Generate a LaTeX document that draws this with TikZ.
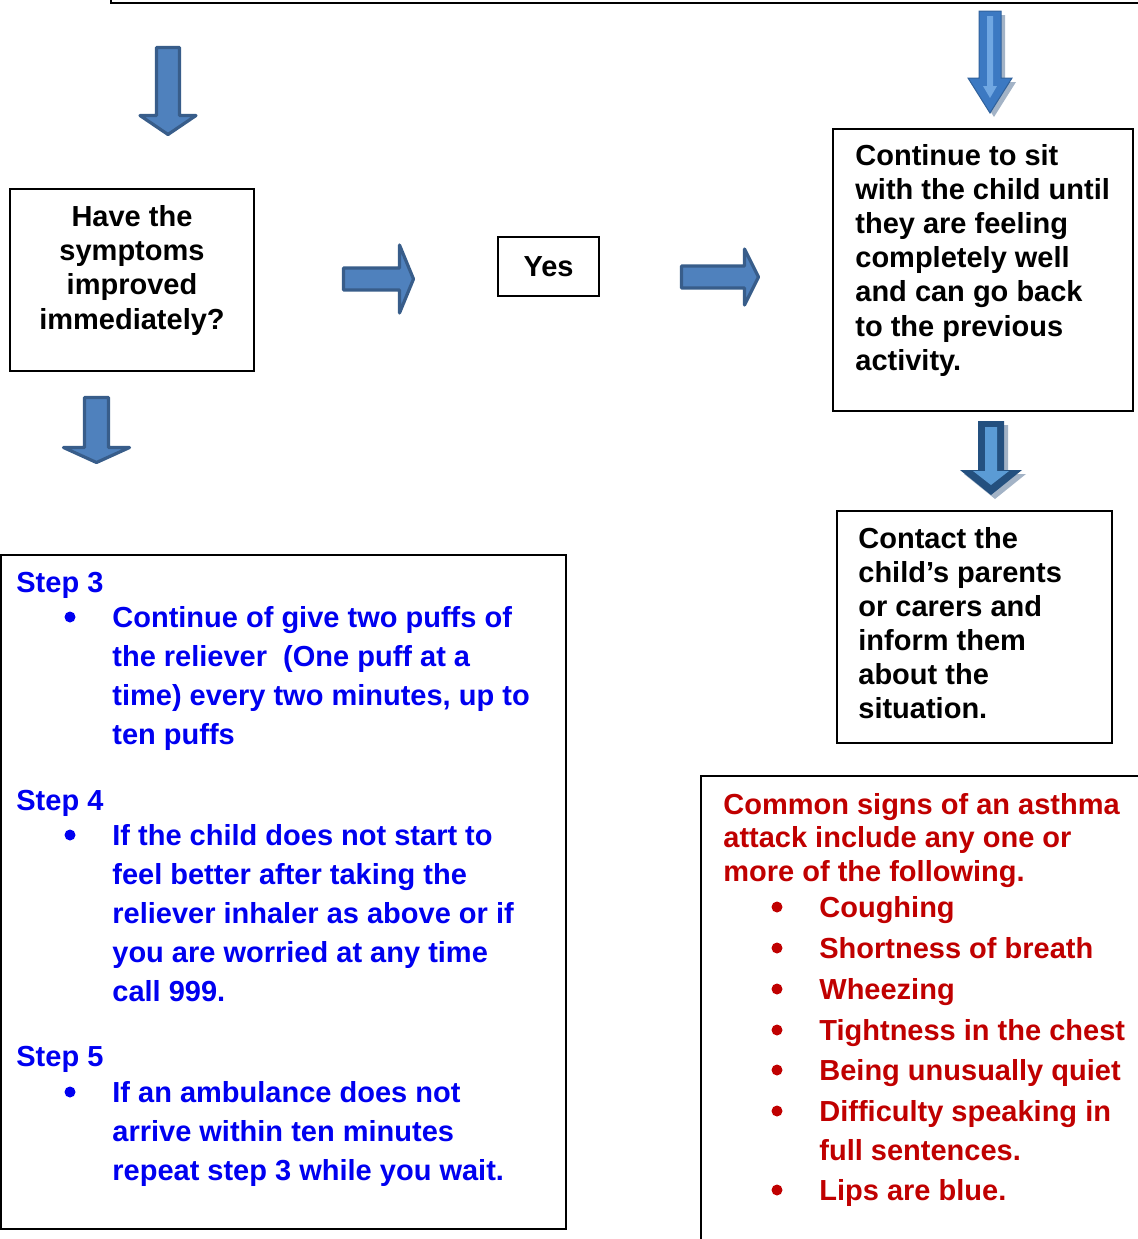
\documentclass[tikz,border=0pt]{standalone}
\usepackage{fontspec}
\setmainfont{Liberation Sans}
\definecolor{arrowfill}{HTML}{4F81BD}
\definecolor{arrowline}{HTML}{385D8A}
\definecolor{shadowgray}{HTML}{A3B3C6}
\definecolor{darkblue}{HTML}{24507F}
\definecolor{lightblue}{HTML}{5B9BD5}
\definecolor{midblue}{HTML}{3C79C2}
\definecolor{stripeblue}{HTML}{70A7E2}
\definecolor{stepblue}{HTML}{0000F0}
\definecolor{signred}{HTML}{C00000}
% lines stacked from the first baseline down
\newcommand{\textlines}[2]{\begin{tabular}[t]{@{}#1@{}}#2\end{tabular}}
\tikzset{
  pics/downarrow/.style n args={5}{code={
    \path[#5] (-#1,0) -- (-#1,-#3+#4) -- (-#2,-#3+#4) -- (0,-#3)
      -- (#2,-#3+#4) -- (#1,-#3+#4) -- (#1,0) -- cycle;
  }},
  blockarrow/.style={fill=arrowfill, draw=arrowline, line width=1.6pt, line join=round},
  shadowarrow/.style={fill=shadowgray},
  darkarrow/.style={fill=darkblue},
  lightarrow/.style={fill=lightblue},
  midarrow/.style={fill=midblue, draw=midblue!80!black, line width=0.5pt},
  stripearrow/.style={fill=stripeblue},
  panel/.style={draw=black, line width=1.1pt, inner sep=0pt},
  plaintext/.style={inner sep=0pt, anchor=base west},
  dot/.style={circle, fill, inner sep=0pt, minimum size=5.5pt}
}
\begin{document}
\begin{tikzpicture}[x=0.5pt, y=0.5pt]
  \useasboundingbox (0,0) rectangle (1138,-1239);
  \clip (0,0) rectangle (1138,-1239);

  % boxes
  \node[panel, minimum width=524.5pt, minimum height=11.5pt] (top) at (635.5,8.5) {};
  \node[panel, minimum width=122pt, minimum height=91pt] (q) at (132,-280) {};
  \node[panel, minimum width=50.5pt, minimum height=29.5pt,
    font=\fontsize{14.5}{17}\selectfont\bfseries] (yes) at (548.5,-266.5) {Yes};
  \node[panel, minimum width=150pt, minimum height=141pt] (cont) at (983,-270) {};
  \node[panel, minimum width=137.5pt, minimum height=116pt] (contact) at (974.5,-627) {};
  \node[panel, minimum width=282.5pt, minimum height=337pt] (steps) at (283.5,-892) {};
  \node[panel, minimum width=229.5pt, minimum height=242pt] (signs) at (930.5,-1018) {};

  % block arrows
  \pic at (168,-47.5) {downarrow={11.5}{28}{87}{19}{blockarrow}};
  \pic at (96.5,-397.5) {downarrow={12}{33}{65}{15}{blockarrow}};
  \pic[rotate=90] at (343.5,-279) {downarrow={11}{34}{70}{14}{blockarrow}};
  \pic[rotate=90] at (681.5,-277) {downarrow={11}{28}{77}{14}{blockarrow}};
  \pic at (994,-15) {downarrow={11}{22}{102}{35}{shadowarrow}};
  \pic at (990,-11) {downarrow={11}{22}{102}{35}{midarrow}};
  \pic at (990,-16) {downarrow={3}{7}{82}{12}{stripearrow}};
  \pic at (995,-425) {downarrow={13}{31}{74}{25}{shadowarrow}};
  \pic at (991,-421) {downarrow={13}{31}{74}{25}{darkarrow}};
  \pic at (991,-427) {downarrow={6}{18}{58}{14}{lightarrow}};

  % black texts
  \node[plaintext, anchor=base, font=\fontsize{14.5}{17.2}\selectfont\bfseries]
    (qt) at (132,-226) {\textlines{c}{Have the\\symptoms\\improved\\immediately?}};
  \node[plaintext, font=\fontsize{14.5}{17.1}\selectfont\bfseries]
    (contt) at (855,-165) {\textlines{l}{Continue to sit\\with the child until\\they are feeling\\completely well\\and can go back\\to the previous\\activity.}};
  \node[plaintext, font=\fontsize{14.5}{17}\selectfont\bfseries]
    (contactt) at (858,-548) {\textlines{l}{Contact the\\child’s parents\\or carers and\\inform them\\about the\\situation.}};

  % steps
  \begin{scope}[stepblue, font=\fontsize{14.5}{19.5}\selectfont\bfseries]
    \node[plaintext] (s3) at (16,-592) {Step 3};
    \node[dot] (b3) at (70,-617) {};
    \node[plaintext] (s3t) at (112,-627) {\textlines{l}{Continue of give two puffs of\\the reliever\ \ (One puff at a\\time) every two minutes, up to\\ten puffs}};
    \node[plaintext] (s4) at (16,-810) {Step 4};
    \node[dot] (b4) at (70,-835) {};
    \node[plaintext] (s4t) at (112,-845) {\textlines{l}{If the child does not start to\\feel better after taking the\\reliever inhaler as above or if\\you are worried at any time\\call 999.}};
    \node[plaintext] (s5) at (16,-1066) {Step 5};
    \node[dot] (b5) at (70,-1092) {};
    \node[plaintext] (s5t) at (112,-1102) {\textlines{l}{If an ambulance does not\\arrive within ten minutes\\repeat step 3 while you wait.}};
  \end{scope}

  % signs
  \begin{scope}[signred, font=\fontsize{14.5}{16.75}\selectfont\bfseries]
    \node[plaintext] (signt) at (723,-814) {\textlines{l}{Common signs of an asthma\\attack include any one or\\more of the following.}};
    \foreach \txt/\yy [count=\i] in {Coughing/917, Shortness of breath/958, Wheezing/999,
        Tightness in the chest/1040, Being unusually quiet/1080,
        {Difficulty speaking in\\full sentences.}/1121, Lips are blue./1200} {
      \node[dot] (sb\i) at (777,-\yy+10) {};
      \node[plaintext, font=\fontsize{14.5}{19.5}\selectfont\bfseries] (sign\i) at (819,-\yy) {\textlines{l}{\txt}};
    }
  \end{scope}
\end{tikzpicture}
\end{document}
